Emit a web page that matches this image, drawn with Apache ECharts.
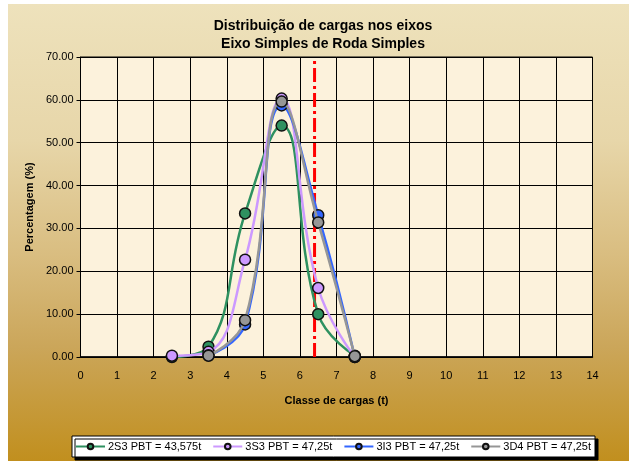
<!DOCTYPE html>
<html><head><meta charset="utf-8">
<script src="https://cdn.jsdelivr.net/npm/echarts@6/dist/echarts.min.js"></script>
<style>
html,body{margin:0;padding:0;background:#fff;}
#bg{position:absolute;left:8px;top:4px;width:621px;height:457px;
background:linear-gradient(to bottom,#eee2bc 0%,#e7d6a9 30%,#d9bd80 55%,#cba65a 75%,#c18f1e 100%);}
#c{position:absolute;left:0;top:0;width:629px;height:461px;}
</style></head>
<body><div id="bg"></div><div id="c"></div>
<script>
var classes = [2.5, 3.5, 4.5, 5.5, 6.5, 7.5];
var s2S3 = [0.0, 2.4, 33.5, 54.0, 10.0, 0.3];
var s3S3 = [0.3, 1.2, 22.7, 60.3, 16.1, 0.0];
var s3I3 = [null, 0.4, 7.6, 58.7, 33.1, 0.0];
var s3D4 = [null, 0.3, 8.6, 59.6, 31.4, 0.2];
var names = ['2S3 PBT = 43,575t', '3S3 PBT = 47,25t', '3I3 PBT = 47,25t', '3D4 PBT = 47,25t'];
var colors = ['#2e9160', '#cc99ff', '#3366ff', '#969696'];
var limitX = 6.4;
var yMax = 70;

function pts(arr){var r=[];for(var i=0;i<classes.length;i++){if(arr[i]!==null)r.push([classes[i],arr[i]]);}return r;}
var all=[s2S3,s3S3,s3I3,s3D4];
var series=all.map(function(a,i){return {
  name:names[i],type:'line',data:pts(a),smooth:0.45,symbol:'circle',symbolSize:11,
  lineStyle:{color:colors[i],width:2.5},
  itemStyle:{color:colors[i],borderColor:'#111',borderWidth:1.5},z:3+i
};});
series.push({type:'line',name:'limite',data:[[limitX,0],[limitX,yMax]],symbol:'none',
  lineStyle:{color:'#ff0000',width:3,type:[14,4,3,4]},z:2,silent:true});
var font='Liberation Sans, Arial, sans-serif';
var chart=echarts.init(document.getElementById('c'),null,{renderer:'canvas'});
chart.setOption({
  animation:false,
  title:{text:'Distribuição de cargas nos eixos\nEixo Simples de Roda Simples',left:318,textAlign:'center',top:12,
    textStyle:{fontFamily:font,fontSize:14,fontWeight:'bold',color:'#000',lineHeight:18}},
  grid:{left:80.5,right:36.5,top:57,bottom:104,show:true,backgroundColor:'#fcf2dc',borderColor:'#000',borderWidth:1},
  xAxis:{type:'value',min:0,max:14,interval:1,
    name:'Classe de cargas (t)',nameLocation:'middle',nameGap:38,
    nameTextStyle:{fontFamily:font,fontSize:11,fontWeight:'bold',color:'#000'},
    axisLine:{lineStyle:{color:'#000',width:1.5}},axisTick:{show:false},
    axisLabel:{fontFamily:font,fontSize:11,color:'#000',margin:13},
    splitLine:{show:true,lineStyle:{color:'#000',width:1}}},
  yAxis:{type:'value',min:0,max:yMax,interval:10,
    name:'Percentagem (%)',nameLocation:'middle',nameGap:45,
    nameTextStyle:{fontFamily:font,fontSize:11,fontWeight:'bold',color:'#000'},
    axisLine:{show:true,lineStyle:{color:'#000',width:1}},
    axisTick:{show:true,length:4,inside:false,lineStyle:{color:'#000'}},
    axisLabel:{fontFamily:font,fontSize:11,color:'#000',margin:7,formatter:function(v){return v.toFixed(2);}},
    splitLine:{show:true,lineStyle:{color:'#000',width:1}}},
  legend:{data:names,bottom:4,left:72,itemWidth:29,itemHeight:7,itemGap:11,
    backgroundColor:'#fff',borderColor:'#000',borderWidth:1,padding:[5,4,5,3],
    shadowColor:'rgba(0,0,0,1)',shadowOffsetX:3,shadowOffsetY:3,shadowBlur:0,
    textStyle:{fontFamily:font,fontSize:11,color:'#000',padding:[0,0,0,-2]}},
  series:series
});
</script></body></html>
